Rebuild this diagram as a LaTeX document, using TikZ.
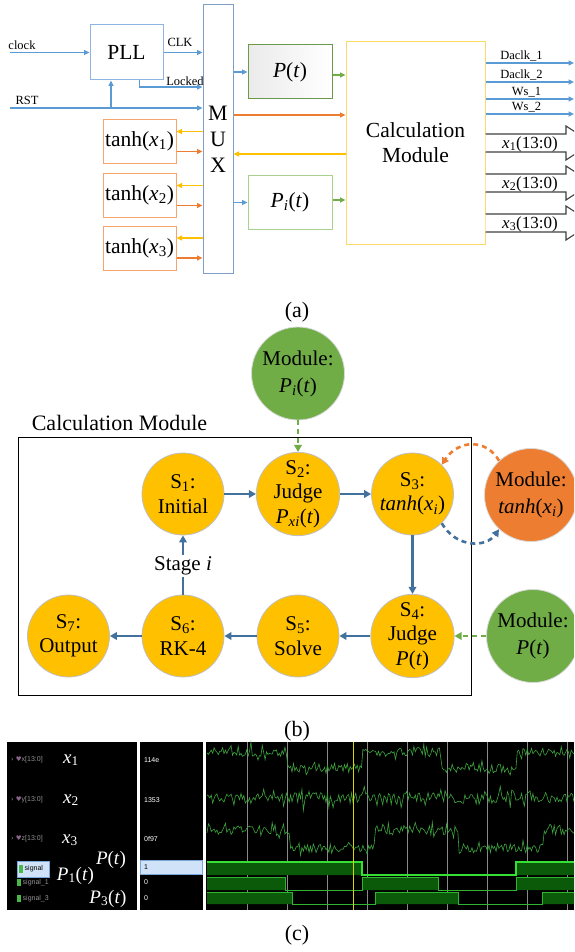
\documentclass[tikz,border=0pt]{standalone}
\usepackage{fontspec}
\setmainfont{Liberation Serif}
\newfontfamily\uisans{Liberation Sans}
\newfontfamily\symfnt{DejaVu Sans}
\usetikzlibrary{arrows.meta,calc}
\definecolor{oblue}{HTML}{5B9BD5}
\definecolor{pllblue}{HTML}{8DB4E2}
\definecolor{oorange}{HTML}{ED7D31}
\definecolor{torange}{HTML}{F4A46C}
\definecolor{oyellow}{HTML}{FFC000}
\definecolor{cyellow}{HTML}{FFD966}
\definecolor{ogreen}{HTML}{70AD47}
\definecolor{dkgreen}{HTML}{6A9A4A}
\definecolor{ltgreen}{HTML}{A9D18E}
\definecolor{muxblue}{HTML}{7F9FC8}
\definecolor{sblue}{HTML}{41719C}
\definecolor{wavec}{HTML}{3DA53D}
\definecolor{sigfill}{HTML}{0A5A0A}
\definecolor{sigedge}{HTML}{2FB52F}
\definecolor{sigbright}{HTML}{33E033}
\definecolor{gridc}{HTML}{8A8A8A}
\definecolor{cursorc}{HTML}{D8D800}
\definecolor{selfill}{HTML}{CFE2F7}
\definecolor{seledge}{HTML}{7AA6DA}
\newcommand{\iv}[1]{\textit{#1}}
\newcommand{\ssub}[1]{\textsubscript{#1}}
\begin{document}
\begin{tikzpicture}[x=1pt,y=-1pt,
  big/.style={font=\fontsize{21.5}{25}\selectfont},
  midf/.style={font=\fontsize{17}{20}\selectfont},
  sml/.style={font=\fontsize{12.5}{14}\selectfont, inner sep=0pt},
  uitxt/.style={font=\uisans\fontsize{7}{8}\selectfont, inner sep=0pt},
  wlab/.style={font=\fontsize{19}{22}\selectfont, text=white, inner sep=0pt, anchor=base},
  ba/.style={oblue, line width=1.3pt, -{Triangle[length=5.5pt,width=5pt]}},
  oa/.style={oorange, line width=1.3pt, -{Triangle[length=5.5pt,width=5pt]}},
  ya/.style={oyellow, line width=1.3pt, -{Triangle[length=5.5pt,width=5pt]}},
  ga/.style={ogreen, line width=1.3pt, -{Triangle[length=5.5pt,width=5pt]}},
  box/.style={draw, line width=1pt, inner sep=0pt, big, align=center},
  hollow/.style={draw=black!75, line width=1.1pt, fill=white},
  st/.style={circle, fill=oyellow, draw=black!25, line width=0.8pt, minimum size=82pt, inner sep=0pt, font=\fontsize{21}{24.5}\selectfont, align=center},
  modc/.style={circle, draw=black!15, line width=0.8pt, minimum size=93pt, inner sep=0pt, font=\fontsize{21}{27}\selectfont, align=center},
  sa/.style={sblue, line width=2.6pt, -{Triangle[length=7pt,width=7.5pt]}},
  sln/.style={sblue, line width=2.6pt},
  dsh/.style={line width=2.6pt, dash pattern=on 5pt off 4pt, -{Triangle[length=7pt,width=7.5pt]}},
  lbl/.style={font=\fontsize{22}{26}\selectfont, inner sep=0pt},
]
\useasboundingbox (0,0) rectangle (574,952);
\fill[white] (0,0) rectangle (574,952);
\clip (0,0) rectangle (574,952);

% ---------------- (a) ----------------
\node[box, draw=pllblue, minimum width=73pt, minimum height=55pt] (pll) at (126.5,52.5) {PLL};
\node[box, draw=muxblue, minimum width=30pt, minimum height=268pt, font=\fontsize{22}{26}\selectfont] (mux) at (218,139) {M\\U\\X};
\node[box, draw=torange, minimum width=73pt, minimum height=44pt] (t1) at (139.5,141.5) {tanh(\iv{x}\ssub{1})};
\node[box, draw=torange, minimum width=73pt, minimum height=44pt] (t2) at (139.5,195.5) {tanh(\iv{x}\ssub{2})};
\node[box, draw=torange, minimum width=73pt, minimum height=44pt] (t3) at (139.5,248) {tanh(\iv{x}\ssub{3})};
\node[box, draw=dkgreen, left color=black!8, right color=white, minimum width=84pt, minimum height=54pt] (pt) at (290,72) {\iv{P}(\iv{t})};
\node[box, draw=ltgreen, fill=white, minimum width=84pt, minimum height=53pt] (pit) at (290,202.5) {\iv{P}\ssub{\iv{i}}(\iv{t})};
\node[box, draw=cyellow, minimum width=139pt, minimum height=202pt] (calc) at (415.5,143) {Calculation\\Module};

\coordinate (clkin) at (10,52.5);
\draw[ba] (clkin) -- (pll.west);
\node[sml] at (22,45) {clock};
\draw[ba] (pll.east) -- (pll.east -| mux.west);
\node[sml] at (180,42) {CLK};
\coordinate (ylock) at (0,87);
\draw[ba] ($(pll.south)+(13,0)$) |- (mux.west |- ylock);
\node[sml] at (185,81) {Locked};
\coordinate (rstin) at (10,108);
\coordinate (rstup) at (111,108);
\draw[ba] (rstin) -- (rstin -| mux.west);
\draw[ba] (rstup) -- (rstup |- pll.south);
\node[sml] at (27,100.5) {RST};

\foreach \t in {t1,t2,t3}{
  \draw[ya] ($(\t.east -| mux.west)+(0,-10)$) -- ($(\t.east)+(0,-10)$);
  \draw[oa] ($(\t.east)+(0,10)$) -- ($(\t.east -| mux.west)+(0,10)$);
}
\draw[ba] (pt.west -| mux.east) -- (pt.west);
\draw[ba] (pit.west -| mux.east) -- (pit.west);
\draw[ga] ($(pt.east)+(0,3)$) -- ($(pt.east -| calc.west)+(0,3)$);
\draw[ga] ($(pit.east)+(0,-2.5)$) -- ($(pit.east -| calc.west)+(0,-2.5)$);
\coordinate (yor) at (0,115);
\coordinate (yye) at (0,154);
\draw[oa] (mux.east |- yor) -- (calc.west |- yor);
\draw[ya] (calc.west |- yye) -- (mux.east |- yye);

\foreach \yy/\lab/\lx in {63/Daclk\_1/521.5, 82/Daclk\_2/521.5, 99/Ws\_1/526.5, 114/Ws\_2/526.5}{
  \coordinate (oy) at (0,\yy);
  \coordinate (oend) at (574,\yy);
  \draw[ba] (calc.east |- oy) -- (oend);
  \node[sml] at (\lx,\yy-7) {\lab};
}
\foreach \cy/\n in {143/1,183/2,223/3}{
  \coordinate (hc) at (0,\cy);
  \draw[hollow] ($(calc.east |- hc)+(0,-9)$) -- (566,\cy-9) -- (566,\cy-17) -- (592,\cy) -- (566,\cy+17) -- (566,\cy+9) -- ($(calc.east |- hc)+(0,9)$);
  \node[midf, inner sep=0pt] at (530,\cy+1) {\iv{x}\ssub{\n}(13:0)};
}
\node[lbl] at (297,312) {(a)};

% ---------------- (b) ----------------
\node[modc, fill=ogreen] (mpi) at (298,373.5) {Module:\\\iv{P}\ssub{\iv{i}}(\iv{t})};
\node[draw, line width=1pt, minimum width=453pt, minimum height=258pt, inner sep=0pt] (cmod) at (244.5,566) {};
\node[lbl] at (119.5,423) {Calculation Module};
\node[st] (s1) at (183,494) {S\ssub{1}:\\Initial};
\node[st] (s2) at (298,494) {S\ssub{2}:\\Judge\\\iv{P}\ssub{\iv{xi}}(\iv{t})};
\node[st] (s3) at (412.5,494) {S\ssub{3}:\\\iv{tanh}(\iv{x}\ssub{\iv{i}})};
\node[st] (s4) at (412.5,636) {S\ssub{4}:\\Judge\\\iv{P}(\iv{t})};
\node[st] (s5) at (298,636) {S\ssub{5}:\\Solve};
\node[st] (s6) at (183,636) {S\ssub{6}:\\RK-4};
\node[st] (s7) at (68.5,636) {S\ssub{7}:\\Output};
\node[modc, fill=oorange] (mt) at (531,495) {Module:\\\iv{tanh}(\iv{x}\ssub{\iv{i}})};
\node[modc, fill=ogreen] (mp) at (533,636) {Module:\\\iv{P}(\iv{t})};

\draw[sa] (s1) -- (s2);
\draw[sa] (s2) -- (s3);
\draw[sa] (s3) -- (s4);
\draw[sa] (s4) -- (s5);
\draw[sa] (s5) -- (s6);
\draw[sa] (s6) -- (s7);
\node[font=\fontsize{21}{24}\selectfont, inner sep=2pt] (stg) at (183,566) {Stage \iv{i}};
\draw[sln] (s6) -- (stg);
\draw[sa] (stg) -- (s1);
\draw[dsh, ogreen] (mpi) -- (s2);
\draw[dsh, ogreen] (mp) -- (s4);
\draw[dsh, oorange] (mt.133) .. controls (486,438) and (458,440) .. (s3.45);
\draw[dsh, sblue] (s3.-45) .. controls (456,548) and (486,548) .. (mt.-133);
\node[lbl] at (297,731) {(b)};

% ---------------- (c) ----------------
\fill[black] (7,742) rectangle (137,910);
\fill[black] (140,742) rectangle (203,910);
\fill[black] (206,742) rectangle (574,910);

\node[uitxt, text=gray!85, anchor=west] at (11,760) {{\symfnt\fontsize{6.5}{7}\selectfont › \textcolor{violet!35!gray!90}{♥}}x[13:0]};
\node[uitxt, text=gray!85, anchor=west] at (11,800) {{\symfnt\fontsize{6.5}{7}\selectfont › \textcolor{violet!35!gray!90}{♥}}y[13:0]};
\node[uitxt, text=gray!85, anchor=west] at (11,839) {{\symfnt\fontsize{6.5}{7}\selectfont › \textcolor{violet!35!gray!90}{♥}}z[13:0]};
\node[draw=seledge, fill=selfill, line width=0.8pt, minimum width=32pt, minimum height=16pt, inner sep=0pt] (selsig) at (33,869) {};
\fill[green!45!gray] (19,865) rectangle (23,873);
\node[uitxt, anchor=west] at (24.5,869) {signal};
\fill[green!45!gray] (17,879) rectangle (21,886);
\node[uitxt, text=gray!85, anchor=west] at (22.5,882.5) {signal\_1};
\fill[green!45!gray] (17,895) rectangle (21,902);
\node[uitxt, text=gray!85, anchor=west] at (22.5,898.5) {signal\_3};

\node[wlab] at (71,763) {\iv{x}\ssub{1}};
\node[wlab] at (71,803) {\iv{x}\ssub{2}};
\node[wlab] at (70,843) {\iv{x}\ssub{3}};
\node[wlab] at (111,864) {\iv{P}(\iv{t})};
\node[wlab] at (75.5,880) {\iv{P}\ssub{1}(\iv{t})};
\node[wlab] at (108,903) {\iv{P}\ssub{3}(\iv{t})};

\node[uitxt, text=white, anchor=west] at (144,760) {114e};
\node[uitxt, text=white, anchor=west] at (144,800) {1353};
\node[uitxt, text=white, anchor=west] at (144,839) {0f97};
\node[draw=seledge, fill=selfill, line width=0.8pt, minimum width=62pt, minimum height=14pt, inner sep=0pt] (selval) at (171.5,867.5) {};
\node[uitxt, anchor=west] at (144,867.5) {1};
\node[uitxt, text=white, anchor=west] at (144,882.5) {0};
\node[uitxt, text=white, anchor=west] at (144,898.5) {0};

\foreach \gx in {247.5,287.5,...,567.5} \draw[gridc, line width=0.6pt] (\gx,742) -- (\gx,910);

\pgfmathsetseed{7}
\draw[wavec, line width=0.6pt] plot[domain=207:574, samples=260] (\x,{752+16*((\x>287)-(\x>362)+(\x>440)-(\x>516))+4.5*rand+9*rand*rand*rand});
\draw[wavec, line width=0.6pt] plot[domain=207:574, samples=260] (\x,{798+5*rand+14*rand*rand*rand});
\draw[wavec, line width=0.6pt] plot[domain=207:574, samples=260] (\x,{830+18*((\x>290)-(\x>375)+(\x>458)-(\x>543))+4.5*rand+9*rand*rand*rand});

\fill[sigfill] (207,862) rectangle (362,875) (516,862) rectangle (574,875);
\draw[sigbright, line width=1.3pt] (207,862) -- (362,862) -- (362,875) -- (516,875) -- (516,862) -- (574,862);
\fill[sigfill] (207,877) rectangle (285,890) (362,877) rectangle (438,890) (516,877) rectangle (574,890);
\draw[sigedge, line width=0.8pt] (207,877) -- (285,877) -- (285,890) -- (362,890) -- (362,877) -- (438,877) -- (438,890) -- (516,890) -- (516,877) -- (574,877);
\fill[sigfill] (207,892) rectangle (292,904) (375,892) rectangle (458,904) (542,892) rectangle (574,904);
\draw[sigedge, line width=0.8pt] (207,892) -- (292,892) -- (292,904) -- (375,904) -- (375,892) -- (458,892) -- (458,904) -- (542,904) -- (542,892) -- (574,892);

\draw[cursorc, line width=1pt] (353,742) -- (353,910);
\node[lbl] at (297,935) {(c)};
\end{tikzpicture}
\end{document}
